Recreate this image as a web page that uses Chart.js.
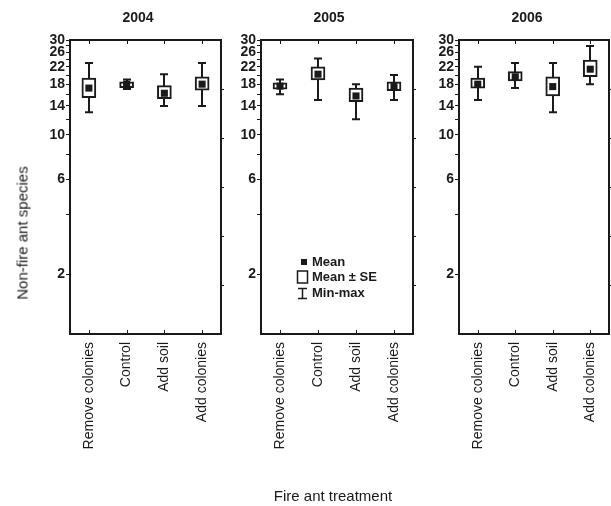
<!DOCTYPE html>
<html>
<head>
<meta charset="utf-8">
<script src="https://cdn.jsdelivr.net/npm/chart.js@4.4.1/dist/chart.umd.min.js"></script>
<style>
  html, body { margin: 0; padding: 0; background: #fff; }
  #wrap { position: relative; width: 611px; height: 506px; overflow: hidden; font-family: 'Liberation Sans', Arial, sans-serif; color: #1a1a1a; }
  canvas { position: absolute; top: 0; }
  .t { position: absolute; white-space: nowrap; transform: translate(-50%, -50%); }
  .yr { font-weight: bold; font-size: 14px; }
</style>
</head>
<body>
<div id="wrap">
  <canvas id="c2004" width="196" height="506" style="left:30px"></canvas>
  <canvas id="c2005" width="197" height="506" style="left:221px"></canvas>
  <canvas id="c2006" width="195" height="506" style="left:419px"></canvas>
  <div class="t yr" style="left:138px; top:17px">2004</div>
  <div class="t yr" style="left:329px; top:17px">2005</div>
  <div class="t yr" style="left:527px; top:17px">2006</div>
  <div class="t" style="left:22px; top:233px; font-size:15px; transform: translate(-50%, -50%) rotate(-90deg)">Non-fire ant species</div>
  <div class="t" style="left:333px; top:495px; font-size:15px">Fire ant treatment</div>
</div>
<script>
// Treatments on the x axis
const treatments = ['Remove colonies', 'Control', 'Add soil', 'Add colonies'];

// Number of non-fire ant species per treatment: mean, mean ± SE, min and max
const mean2004   = [17.2, 18.0, 16.2, 18.0];
const seLow2004  = [15.4, 17.3, 15.2, 16.8];
const seHigh2004 = [19.3, 18.5, 17.7, 19.6];
const min2004    = [13, 17.0, 14, 14];
const max2004    = [23, 19.0, 20.2, 23];

const mean2005   = [17.6, 20.2, 15.7, 17.5];
const seLow2005  = [17.0, 18.9, 14.7, 16.7];
const seHigh2005 = [18.3, 22.0, 17.2, 18.5];
const min2005    = [16, 15, 12, 15];
const max2005    = [19, 24.2, 18, 20];

const mean2006   = [18.0, 19.6, 17.5, 21.4];
const seLow2006  = [17.2, 18.7, 15.7, 19.6];
const seHigh2006 = [19.3, 20.8, 19.6, 23.8];
const min2006    = [15, 17.2, 13, 18];
const max2006    = [22, 23, 23, 28];

// Log-scale y ticks: marks every 2, labels every 4
const yTicks = [2, 4, 6, 8, 10, 12, 14, 16, 18, 20, 22, 24, 26, 28, 30];
const yLabelled = [2, 6, 10, 14, 18, 22, 26, 30];

const INK = '#1a1a1a';
const FONT = "'Liberation Sans', Arial, sans-serif";

// Min-max whiskers, drawn under the SE boxes
const whiskerPlugin = {
  id: 'whiskers',
  beforeDatasetsDraw(chart, args, opts) {
    const { ctx } = chart;
    const xs = chart.scales.x, ys = chart.scales.y;
    ctx.save();
    ctx.strokeStyle = INK;
    ctx.lineWidth = 2;
    opts.min.forEach((lo, i) => {
      const x = Math.round(xs.getPixelForValue(i));
      const y1 = ys.getPixelForValue(lo);
      const y2 = ys.getPixelForValue(opts.max[i]);
      ctx.beginPath();
      ctx.moveTo(x, y1); ctx.lineTo(x, y2);
      ctx.moveTo(x - 4, y1); ctx.lineTo(x + 4, y1);
      ctx.moveTo(x - 4, y2); ctx.lineTo(x + 4, y2);
      ctx.stroke();
    });
    ctx.restore();
  }
};

// Plot frame with inner category ticks and outer right-hand ticks
const framePlugin = {
  id: 'frame',
  afterDraw(chart) {
    const { ctx, chartArea: a } = chart;
    const xs = chart.scales.x;
    ctx.save();
    ctx.strokeStyle = INK;
    ctx.lineWidth = 1;
    ctx.beginPath();
    treatments.forEach((t, i) => {
      const x = Math.round(xs.getPixelForValue(i)) + 0.5;
      ctx.moveTo(x, a.top); ctx.lineTo(x, a.top + 4);
      ctx.moveTo(x, a.bottom); ctx.lineTo(x, a.bottom - 4);
    });
    for (let k = 1; k < 6; k++) {
      const y = Math.round(a.top + (a.bottom - a.top) * k / 6) + 0.5;
      ctx.moveTo(a.right, y); ctx.lineTo(a.right + 3, y);
    }
    ctx.stroke();
    ctx.lineWidth = 2;
    ctx.strokeRect(a.left, a.top, a.right - a.left, a.bottom - a.top);
    ctx.restore();
  }
};

// Key explaining the symbols
const keyPlugin = {
  id: 'key',
  afterDraw(chart, args, opts) {
    if (!opts.show) return;
    const { ctx } = chart;
    const x0 = opts.x, y0 = opts.y;
    ctx.save();
    ctx.fillStyle = INK;
    ctx.strokeStyle = INK;
    ctx.font = 'bold 13px ' + FONT;
    ctx.textBaseline = 'middle';
    ctx.fillRect(x0 + 4, y0 - 3, 6, 6);
    ctx.fillText('Mean', x0 + 15, y0);
    ctx.lineWidth = 1.5;
    ctx.strokeRect(x0 + 0.5, y0 + 9, 10, 12);
    ctx.fillText('Mean \u00B1 SE', x0 + 15, y0 + 15);
    ctx.beginPath();
    ctx.moveTo(x0 + 5.5, y0 + 26); ctx.lineTo(x0 + 5.5, y0 + 37);
    ctx.moveTo(x0 + 1, y0 + 26.5); ctx.lineTo(x0 + 10, y0 + 26.5);
    ctx.moveTo(x0 + 1, y0 + 36.5); ctx.lineTo(x0 + 10, y0 + 36.5);
    ctx.stroke();
    ctx.fillText('Min-max', x0 + 15, y0 + 31);
    ctx.restore();
  }
};

function makePanel(id, mean, seLow, seHigh, mins, maxs, key) {
  return new Chart(document.getElementById(id), {
    type: 'bar',
    data: {
      labels: treatments,
      datasets: [
        {
          type: 'bar',
          data: seLow.map((lo, i) => [lo, seHigh[i]]),
          backgroundColor: '#ffffff',
          borderColor: INK,
          borderWidth: 2,
          borderSkipped: false,
          barThickness: 14,
          order: 2
        },
        {
          type: 'line',
          data: mean,
          showLine: false,
          pointStyle: 'rect',
          pointRadius: 5,
          pointBorderWidth: 0,
          pointBackgroundColor: INK,
          order: 1
        }
      ]
    },
    options: {
      responsive: false,
      animation: false,
      devicePixelRatio: 1,
      layout: { padding: { top: 40, right: 2, bottom: 0, left: 0 } },
      plugins: {
        legend: { display: false },
        tooltip: { enabled: false },
        whiskers: { min: mins, max: maxs },
        key: key || { show: false }
      },
      scales: {
        x: {
          type: 'category',
          offset: true,
          grid: { display: false, drawTicks: false },
          border: { display: false },
          ticks: {
            minRotation: 90, maxRotation: 90, autoSkip: false, padding: 8,
            color: INK, font: { family: FONT, size: 14 }
          },
          afterFit(s) { s.height = 172; s.paddingLeft = 0; s.paddingRight = 0; }
        },
        y: {
          type: 'logarithmic',
          min: 1, max: 30,
          grid: { drawOnChartArea: false, drawTicks: true, tickLength: 4, color: INK, lineWidth: 1 },
          border: { display: false },
          afterBuildTicks(s) { s.ticks = yTicks.map(v => ({ value: v })); },
          ticks: {
            autoSkip: false, padding: 1, color: INK,
            font: { family: FONT, size: 14, weight: 'bold' },
            callback: v => yLabelled.includes(v) ? String(v) : ''
          },
          afterFit(s) { s.width = 40; s.paddingTop = 0; s.paddingBottom = 0; }
        }
      }
    },
    plugins: [whiskerPlugin, framePlugin, keyPlugin]
  });
}

makePanel('c2004', mean2004, seLow2004, seHigh2004, min2004, max2004);
makePanel('c2005', mean2005, seLow2005, seHigh2005, min2005, max2005, { show: true, x: 76, y: 262 });
makePanel('c2006', mean2006, seLow2006, seHigh2006, min2006, max2006);
</script>
</body>
</html>
